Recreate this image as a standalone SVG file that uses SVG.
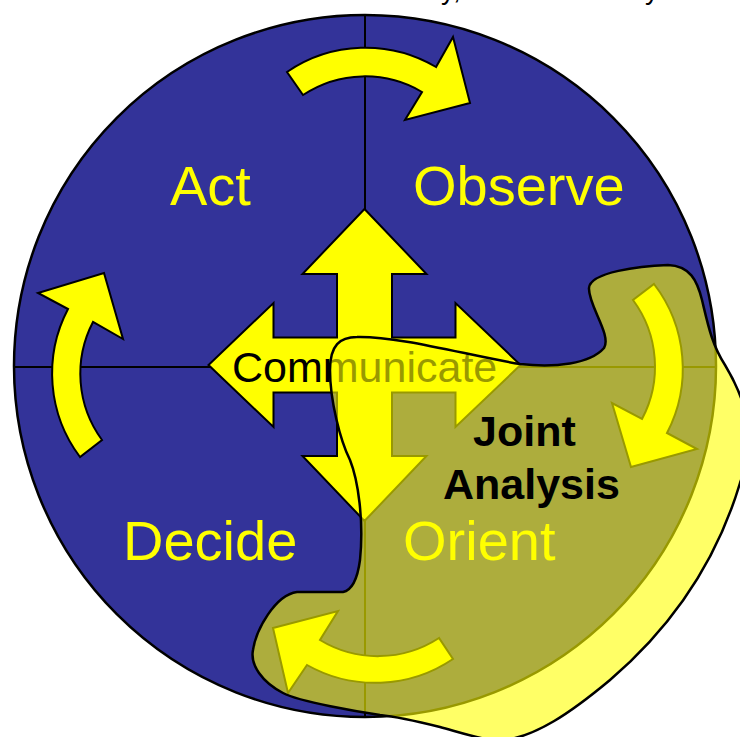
<svg xmlns="http://www.w3.org/2000/svg" width="740" height="737" viewBox="0 0 740 737">
<style>
.lbl{font-family:"Liberation Sans",Arial,sans-serif;font-size:56px;fill:#ffff00}
.arr{fill:#ffff00;stroke:#000;stroke-width:2;stroke-linejoin:miter}
.ln{stroke:#000;stroke-width:2}
</style>
<rect width="740" height="737" fill="#fff"/>
<g id="top-clipped-text" font-family="Liberation Sans,Arial,sans-serif" font-size="28" fill="#000">
<text x="441" y="-1">y,</text>
<text x="645" y="-1">y</text>
</g>
<g id="circle">
<circle cx="365" cy="366" r="351" fill="#333399" stroke="#000" stroke-width="2.5"/>
<line class="ln" x1="14" y1="367" x2="716" y2="367"/>
<line class="ln" x1="365" y1="15" x2="365" y2="717"/>
</g>
<g id="cycle-arrows">
<path id="arrow-top" class="arr" d="M287,72 A139,139 0 0 1 436,67 L453,37 L470,103 L405,120 L422,92 A112,112 0 0 0 303,95 Z"/>
<path id="arrow-right" class="arr" d="M654,284 A139,139 0 0 1 667,433 L697,449 L631,467 L612,403 L642,419 A112,112 0 0 0 633,300 Z"/>
<path id="arrow-bottom" class="arr" d="M453,659 A139,139 0 0 1 307,665 L288,693 L273,628 L338,611 L320,640 A112,112 0 0 0 439,638 Z"/>
<path id="arrow-left" class="arr" d="M80,457 A139,139 0 0 1 68,309 L38,293 L104,273 L123,339 L93,322 A112,112 0 0 0 102,440 Z"/>
</g>
<g id="communicate">
<path class="arr" d="M364.5,209 L426.5,274 L392,274 L392,337.5 L455.5,337.5 L455.5,303 L520.5,365 L455.5,427 L455.5,392.5 L392,392.5 L392,456 L426.5,456 L364.5,521 L302.5,456 L337,456 L337,392.5 L273.5,392.5 L273.5,427 L208.5,365 L273.5,303 L273.5,337.5 L337,337.5 L337,274 L302.5,274 Z"/>
<text x="232" y="382" font-family="Liberation Sans,Arial,sans-serif" font-size="43" fill="#000">Communicate</text>
</g>
<g id="labels">
<text id="act" class="lbl" x="170" y="205">Act</text>
<text id="observe" class="lbl" x="413" y="205">Observe</text>
<text id="decide" class="lbl" x="123" y="560">Decide</text>
<text id="orient" class="lbl" x="403" y="560">Orient</text>
</g>
<g id="joint-analysis">
<path d="M357,337 C400,336 470,356 520,364 C555,368 590,364 604,348 C612,335 588,305 589,288 C590,272 640,266 668,265 C690,266 697,280 702,300 C708,325 712,345 725,365 C740,390 760,430 740,483 C720,550 680,620 610,680 C580,705 530,745 490,740 C470,736 455,731 440,727 C420,722 400,717 380,715 C360,712 300,702 283,693 C262,682 250,665 253,650 C256,630 275,595 297,592 L343,592 C353,590 358,575 360,560 C364,520 358,480 350,460 C340,440 330,400 330,370 C330,345 340,337 357,337 Z" fill="#ffff00" fill-opacity="0.6" stroke="#000" stroke-width="2.5"/>
<text x="473" y="446" font-family="Liberation Sans,Arial,sans-serif" font-size="43" font-weight="bold" fill="#000">Joint</text>
<text x="443" y="499" font-family="Liberation Sans,Arial,sans-serif" font-size="43" font-weight="bold" fill="#000">Analysis</text>
</g>
</svg>
